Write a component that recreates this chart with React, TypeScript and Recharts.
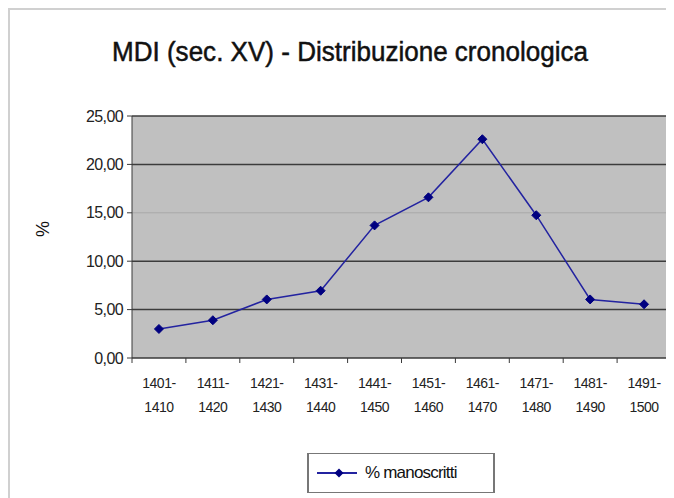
import {
  LineChart,
  Line,
  XAxis,
  YAxis,
  CartesianGrid,
  ReferenceLine,
  Legend,
} from "recharts";

const periods = [
  "1401-1410",
  "1411-1420",
  "1421-1430",
  "1431-1440",
  "1441-1450",
  "1451-1460",
  "1461-1470",
  "1471-1480",
  "1481-1490",
  "1491-1500",
];
const manoscritti = [3.0, 3.9, 6.05, 6.95, 13.7, 16.6, 22.6, 14.75, 6.05, 5.55];
const yTicks = [0, 5, 10, 15, 20, 25];
const faintGrid = [15];
const darkGrid = [5, 10, 20, 25];

const data = periods.map((p, i) => ({ period: p, value: manoscritti[i] }));

const CHART_W = 666;
const CHART_H = 490;
const X_AXIS_H = 60;
const Y_AXIS_W = 124;
const MARGIN = { top: 108, right: 3, bottom: 80, left: 0 };
const HALF_BAND = (CHART_W - MARGIN.right - Y_AXIS_W) / periods.length / 2;

const FONT = "'Liberation Sans', Arial, sans-serif";
const AXIS = "#3a3a3a";
const LINE = "#2323a0";
const MARK = "#000080";

function fmt(v: number) {
  return v.toFixed(2).replace(".", ",");
}

function Diamond(props: any) {
  const { cx, cy } = props;
  if (cx == null || cy == null) return null;
  const r = 4.5;
  return (
    <path
      d={`M${cx},${cy - r}L${cx + r},${cy}L${cx},${cy + r}L${cx - r},${cy}Z`}
      fill={MARK}
      stroke={MARK}
    />
  );
}

function PeriodTick(props: any) {
  const { x, y, payload, index } = props;
  const [a, b] = String(payload.value).split("-");
  return (
    <g>
      <line x1={x - HALF_BAND} y1={y} x2={x - HALF_BAND} y2={y + 5} stroke={AXIS} />
      {index === periods.length - 1 && (
        <line x1={x + HALF_BAND} y1={y} x2={x + HALF_BAND} y2={y + 5} stroke={AXIS} />
      )}
      <text x={x} y={y + 30} textAnchor="middle" fontSize={14} fill="#222" fontFamily={FONT} letterSpacing={-0.5}>
        {a + "-"}
      </text>
      <text x={x} y={y + 54} textAnchor="middle" fontSize={14} fill="#222" fontFamily={FONT} letterSpacing={-0.5}>
        {b}
      </text>
    </g>
  );
}

function LegendBox() {
  return (
    <div
      style={{
        boxSizing: "border-box",
        width: 188,
        height: 40,
        border: "1px solid #777",
        borderLeftWidth: 2,
        borderRightWidth: 2,
        padding: "0 8px",
        display: "flex",
        alignItems: "center",
        gap: 8,
        background: "#fff",
        fontFamily: FONT,
        fontSize: 17,
        color: "#111",
        letterSpacing: -0.8,
      }}
    >
      <svg width={40} height={12}>
        <line x1={0} y1={6} x2={40} y2={6} stroke={LINE} strokeWidth={2} />
        <path d="M22,1.5L26.5,6L22,10.5L17.5,6Z" fill={MARK} />
      </svg>
      <span>% manoscritti</span>
    </div>
  );
}

export default function App() {
  return (
    <div
      style={{
        position: "relative",
        width: CHART_W,
        height: CHART_H,
        borderLeft: "2px solid #d0d0d0",
        borderTop: "2px solid #d0d0d0",
        boxSizing: "border-box",
        background: "#fff",
        overflow: "hidden",
      }}
    >
      <div style={{ position: "absolute", left: -2, top: -2 }}>
        <LineChart width={CHART_W} height={CHART_H} data={data} margin={MARGIN}>
          <text
            x={342}
            y={53}
            textAnchor="middle"
            fontFamily={FONT}
            fontSize={27}
            textLength={476}
            lengthAdjust="spacingAndGlyphs"
            fill="#111"
            stroke="#111"
            strokeWidth={0.5}
          >
            MDI (sec. XV) - Distribuzione cronologica
          </text>
          <CartesianGrid horizontal={false} vertical={false} fill="#c0c0c0" />
          {darkGrid.map((v) => (
            <ReferenceLine key={v} y={v} stroke="#3c3c3c" strokeWidth={1.5} />
          ))}
          {faintGrid.map((v) => (
            <ReferenceLine key={v} y={v} stroke="#a8a8a8" strokeWidth={1} />
          ))}
          <XAxis
            dataKey="period"
            scale="band"
            interval={0}
            height={X_AXIS_H}
            tickSize={0}
            tickMargin={0}
            tickLine={false}
            axisLine={{ stroke: AXIS, strokeWidth: 1.5 }}
            tick={<PeriodTick />}
          />
          <YAxis
            width={Y_AXIS_W}
            domain={[0, 25]}
            ticks={yTicks}
            tickFormatter={fmt}
            tickSize={5}
            tickMargin={4}
            axisLine={{ stroke: AXIS }}
            tickLine={{ stroke: AXIS }}
            tick={{ fill: "#222", fontSize: 16, fontFamily: FONT, letterSpacing: -0.6 }}
            label={{
              value: "%",
              angle: -90,
              position: "insideLeft",
              dx: 30,
              fill: "#111",
              fontSize: 18,
              fontFamily: FONT,
            }}
          />
          <Legend
            layout="horizontal"
            verticalAlign="middle"
            align="center"
            wrapperStyle={{ top: 445, left: 299, width: "auto" }}
            content={() => <LegendBox />}
          />
          <Line
            type="linear"
            dataKey="value"
            stroke={LINE}
            strokeWidth={1.5}
            dot={<Diamond />}
            activeDot={false}
            isAnimationActive={false}
          />
        </LineChart>
      </div>
    </div>
  );
}
